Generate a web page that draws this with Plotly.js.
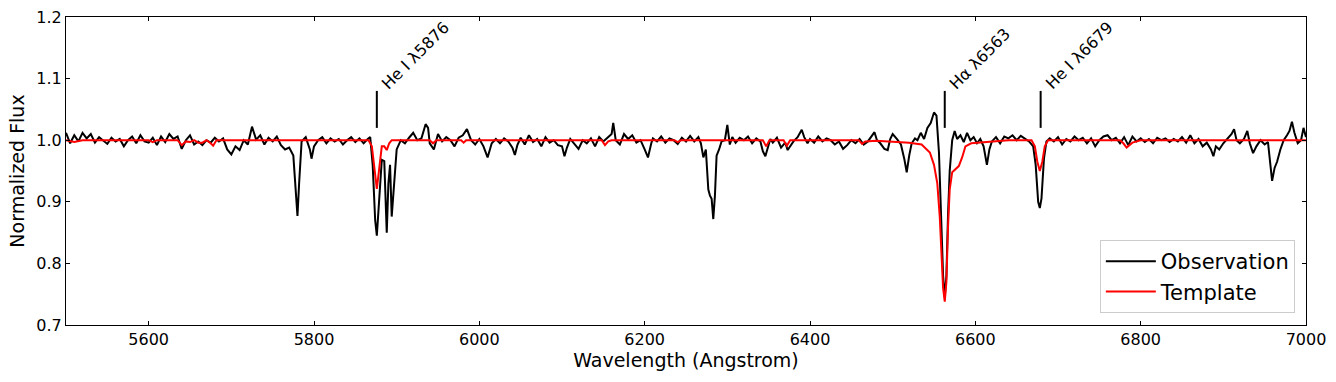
<!DOCTYPE html>
<html>
<head>
<meta charset="utf-8">
<script src="https://cdn.plot.ly/plotly-3.0.1.min.js"></script>
<style>
  html, body { margin: 0; padding: 0; background: #fff; }
  #myGraph { width: 1336px; height: 382px; }
</style>
</head>
<body>
<div id="myGraph"></div>
<script>
// observed spectrum (wavelength in Angstrom, normalized flux)
let obsWave = [
  5500, 5505, 5510, 5515, 5520, 5525, 5530, 5535, 5540, 5545,
  5550, 5555, 5560, 5565, 5570, 5575, 5580, 5585, 5590, 5595,
  5600, 5605, 5610, 5615, 5620, 5625, 5630, 5635, 5640, 5645,
  5650, 5655, 5660, 5665, 5670, 5675, 5680, 5685, 5690, 5695,
  5700, 5705, 5710, 5715, 5720, 5725, 5730, 5735, 5740, 5745,
  5750, 5755, 5760, 5765, 5770, 5775, 5778, 5780, 5782, 5785, 5790, 5795, 5797, 5800,
  5805, 5810, 5815, 5820, 5825, 5830, 5835, 5840, 5845, 5850,
  5855, 5860, 5865, 5868, 5871, 5874, 5876, 5879, 5882, 5885, 5888, 5890, 5892, 5894, 5897, 5900,
  5905, 5910, 5915, 5920, 5925, 5930, 5935, 5938, 5940, 5945,
  5950, 5955, 5960, 5965, 5970, 5975, 5980, 5985, 5990, 5995,
  6000, 6005, 6010, 6015, 6020, 6025, 6030, 6035, 6040, 6043, 6046,
  6050, 6055, 6060, 6065, 6070, 6075, 6080, 6085, 6090, 6095,
  6100, 6103, 6106, 6110, 6115, 6120, 6125, 6130, 6135, 6140, 6145,
  6150, 6155, 6160, 6162, 6165, 6170, 6175, 6180, 6185, 6190, 6195,
  6200, 6204, 6208, 6210, 6215, 6220, 6225, 6230, 6235, 6240, 6245,
  6250, 6255, 6260, 6265, 6268, 6271, 6274, 6277, 6279, 6281, 6283, 6285, 6287, 6290, 6293, 6297,
  6300, 6303, 6306, 6310, 6315, 6320, 6325, 6330, 6335, 6340, 6343, 6346, 6349,
  6352, 6355, 6360, 6365, 6370, 6373, 6376, 6380, 6385, 6390, 6393, 6397,
  6400, 6405, 6410, 6415, 6420, 6425, 6430, 6435, 6440, 6445,
  6450, 6455, 6460, 6465, 6470, 6475, 6478, 6481, 6485, 6490, 6494, 6497,
  6500, 6505, 6510, 6514, 6517, 6520, 6523, 6527, 6530, 6534, 6538, 6542, 6546,
  6550, 6553, 6556, 6559, 6561, 6563, 6565, 6567, 6569, 6572, 6575, 6578, 6582, 6586, 6590, 6594, 6598,
  6602, 6606, 6610, 6614, 6617, 6620, 6625, 6630, 6635, 6640, 6645,
  6650, 6655, 6660, 6665, 6670, 6673, 6676, 6678, 6680, 6683, 6686, 6690, 6695,
  6700, 6705, 6710, 6715, 6720, 6725, 6730, 6735, 6740, 6745,
  6750, 6755, 6760, 6765, 6770, 6775, 6780, 6785, 6790, 6795,
  6800, 6805, 6810, 6815, 6820, 6825, 6830, 6835, 6840, 6845,
  6850, 6855, 6860, 6865, 6870, 6875, 6880, 6885, 6888, 6891, 6895,
  6900, 6905, 6910, 6913, 6916, 6920, 6925, 6929, 6932, 6936, 6940, 6945,
  6950, 6954, 6957, 6959, 6962, 6965, 6969, 6973, 6977, 6980, 6983, 6986, 6990, 6994, 6997, 7000
];
let obsFlux = [
  1.012, 0.995, 1.008, 0.998, 1.012, 1.003, 1.010, 0.996, 1.005, 1.000,
  0.994, 1.004, 0.998, 1.002, 0.990, 1.000, 1.006, 0.995, 1.008, 0.998,
  0.996, 1.004, 0.992, 1.006, 0.997, 1.010, 1.002, 1.006, 0.986, 1.000,
  1.008, 0.993, 0.998, 0.992, 1.000, 0.996, 1.004, 0.998, 1.003, 0.985,
  0.977, 0.990, 0.984, 1.000, 0.993, 1.022, 1.001, 1.008, 0.993, 1.004,
  0.998, 1.006, 0.992, 0.985, 0.988, 0.975, 0.920, 0.877, 0.930, 0.998, 1.005, 0.985, 0.970, 0.990,
  1.000, 1.005, 0.995, 1.003, 0.998, 1.002, 0.993, 1.000, 1.005, 0.997,
  1.003, 0.995, 1.002, 1.005, 0.960, 0.870, 0.845, 0.900, 0.968, 0.966, 0.850, 0.930, 0.960, 0.876, 0.930, 0.985,
  1.000, 0.995, 1.004, 1.012, 1.000, 1.003, 1.026, 1.020, 0.995, 0.985,
  1.010, 0.998, 1.005, 1.000, 0.990, 1.004, 1.008, 1.018, 1.000, 0.993,
  1.002, 0.990, 0.972, 0.995, 1.002, 0.995, 1.003, 0.998, 0.988, 0.976, 0.992,
  1.004, 0.993, 1.008, 0.997, 1.002, 0.990, 1.005, 0.996, 1.000, 0.992,
  0.990, 0.974, 0.988, 1.002, 0.994, 0.986, 1.000, 0.995, 1.003, 0.990, 1.005,
  0.998, 1.004, 1.010, 1.028, 1.000, 0.993, 1.010, 1.002, 1.008, 0.996, 1.000,
  0.985, 0.972, 0.995, 1.003, 0.998, 1.006, 0.996, 1.003, 1.000, 0.994, 1.004,
  0.998, 1.007, 0.998, 1.005, 0.995, 0.972, 0.985, 0.920, 0.910, 0.905, 0.872, 0.910, 0.975, 0.985, 0.998, 1.000,
  1.025, 0.993, 1.005, 0.996, 1.004, 1.000, 1.006, 0.995, 1.003, 0.998, 0.982, 0.974, 0.988,
  1.002, 0.996, 1.004, 0.988, 0.996, 0.984, 0.990, 0.998, 1.005, 1.017, 1.005, 0.995,
  1.002, 0.996, 1.006, 0.998, 1.003, 1.000, 0.993, 0.998, 0.986, 0.992,
  1.000, 0.995, 1.002, 0.993, 0.998, 1.008, 1.013, 1.000, 0.995, 0.986, 0.984, 1.002,
  1.010, 1.002, 0.993, 0.970, 0.948, 0.975, 0.995, 1.003, 1.000, 1.012, 1.002, 1.020, 1.028,
  1.045, 1.040, 0.980, 0.860, 0.780, 0.745, 0.780, 0.880, 0.950, 1.000, 1.015, 1.002, 1.008, 0.997, 1.012, 1.000, 1.005,
  0.995, 1.002, 0.990, 0.960, 0.985, 0.998, 1.005, 0.995, 1.006, 1.003, 1.008,
  1.000, 1.007, 1.003, 0.998, 0.990, 0.960, 0.900, 0.890, 0.905, 0.970, 0.998, 1.003, 0.998,
  1.005, 0.993, 1.002, 0.998, 1.006, 1.000, 1.004, 0.995, 1.003, 0.990,
  1.000, 1.006, 1.008, 1.000, 1.004, 0.995, 1.005, 0.992, 1.006, 0.998,
  1.003, 0.997, 1.002, 0.995, 1.004, 1.000, 1.003, 0.997, 1.002, 0.998,
  1.005, 0.996, 1.008, 0.995, 1.002, 0.990, 0.996, 0.985, 0.974, 0.990, 0.985,
  0.995, 1.003, 1.010, 1.018, 1.000, 0.995, 1.002, 1.015, 0.995, 0.979, 0.990, 1.000,
  0.993, 0.997, 0.960, 0.934, 0.955, 0.965, 0.985, 1.000, 1.008, 1.015, 1.030, 1.012, 0.995, 1.000, 1.020, 1.005
];

// template spectrum
let tplWave = [
  5500, 5510, 5520, 5600, 5605, 5610, 5635, 5640, 5645, 5650, 5655, 5660, 5665, 5670, 5675, 5678, 5682,
  5760, 5780, 5866, 5870, 5873, 5876, 5879, 5882, 5885, 5888, 5891, 5894,
  5940, 5944, 5948, 5978, 5981, 5984, 6148, 6152, 6156, 6160, 6236, 6240, 6244,
  6343, 6347, 6351, 6368, 6372, 6376, 6459, 6463, 6467, 6480, 6500, 6520, 6535,
  6545, 6550, 6554, 6557, 6559, 6561, 6563, 6565, 6567, 6569, 6572, 6576, 6580, 6584, 6588,
  6595, 6610, 6640, 6668, 6672, 6675, 6678, 6681, 6684, 6688,
  6775, 6779, 6783, 6790, 6800, 7000
];
let tplFlux = [
  1.000, 0.997, 1.000, 1.000, 0.997, 1.000, 1.000, 0.992, 0.998, 0.997, 1.000, 0.996, 0.996, 1.000, 0.995, 0.991, 1.000,
  1.000, 0.999, 1.000, 0.990, 0.955, 0.921, 0.955, 0.990, 0.990, 0.984, 0.995, 1.000,
  1.000, 0.995, 1.000, 1.000, 0.996, 1.000, 1.000, 0.992, 0.998, 1.000, 1.000, 0.997, 1.000,
  1.000, 0.990, 1.000, 1.000, 0.991, 1.000, 1.000, 0.994, 0.998, 0.999, 0.998, 0.996, 0.993,
  0.980, 0.960, 0.930, 0.875, 0.820, 0.760, 0.738, 0.770, 0.860, 0.920, 0.948, 0.953, 0.958, 0.972, 0.990,
  0.995, 0.997, 1.000, 1.000, 0.990, 0.965, 0.950, 0.965, 0.990, 1.000,
  1.000, 0.995, 0.988, 0.996, 1.000, 1.000
];

// spectral line markers
let lineWave = [5876, 6563, 6679];
let lineLabel = ['He I λ5876', 'Hα λ6563', 'He I λ6679'];

let myGraph = document.getElementById('myGraph');

let trace1 = {
  type: 'scatter',
  mode: 'lines',
  name: 'Observation',
  x: obsWave,
  y: obsFlux,
  line: {color: 'black', width: 2}
};

let trace2 = {
  type: 'scatter',
  mode: 'lines',
  name: 'Template',
  x: tplWave,
  y: tplFlux,
  line: {color: 'red', width: 2}
};

let shapes = [];
let annotations = [];
for (let i = 0; i < lineWave.length; i++) {
  shapes.push({
    type: 'line', xref: 'x', yref: 'y',
    x0: lineWave[i], x1: lineWave[i], y0: 1.02, y1: 1.08,
    line: {color: 'black', width: 2}
  });
  annotations.push({
    xref: 'x', yref: 'y',
    x: lineWave[i] - 2, y: 1.072,
    text: lineLabel[i],
    showarrow: false,
    textangle: -45,
    xanchor: 'left', yanchor: 'bottom',
    font: {family: 'DejaVu Sans', size: 16, color: 'black'}
  });
}

let axisStyle = {
  showline: true, linecolor: 'black', linewidth: 1,
  mirror: 'ticks', ticks: 'inside', ticklen: 4, tickcolor: 'black',
  showgrid: false, zeroline: false,
  tickfont: {family: 'DejaVu Sans', size: 16, color: 'black'}
};

let layout = {
  width: 1336, height: 382,
  margin: {l: 66, r: 30, t: 17, b: 57},
  paper_bgcolor: 'white', plot_bgcolor: 'white',
  font: {family: 'DejaVu Sans', color: 'black'},
  xaxis: Object.assign({}, axisStyle, {
    range: [5500, 7000], tick0: 5600, dtick: 200,
    title: {text: 'Wavelength (Angstrom)', font: {size: 19}, standoff: 4}
  }),
  yaxis: Object.assign({}, axisStyle, {
    range: [0.7, 1.2], dtick: 0.1, tickformat: '.1f',
    title: {text: 'Normalized Flux', font: {size: 19}, standoff: 6}
  }),
  legend: {
    x: 0.991, y: 0.039, xanchor: 'right', yanchor: 'bottom',
    bgcolor: 'white', bordercolor: '#cccccc', borderwidth: 1,
    itemwidth: 50,
    font: {family: 'DejaVu Sans', size: 21, color: 'black'}
  },
  showlegend: true,
  shapes: shapes,
  annotations: annotations
};

Plotly.newPlot(myGraph, [trace1, trace2], layout, {displayModeBar: false, staticPlot: true});
</script>
</body>
</html>
